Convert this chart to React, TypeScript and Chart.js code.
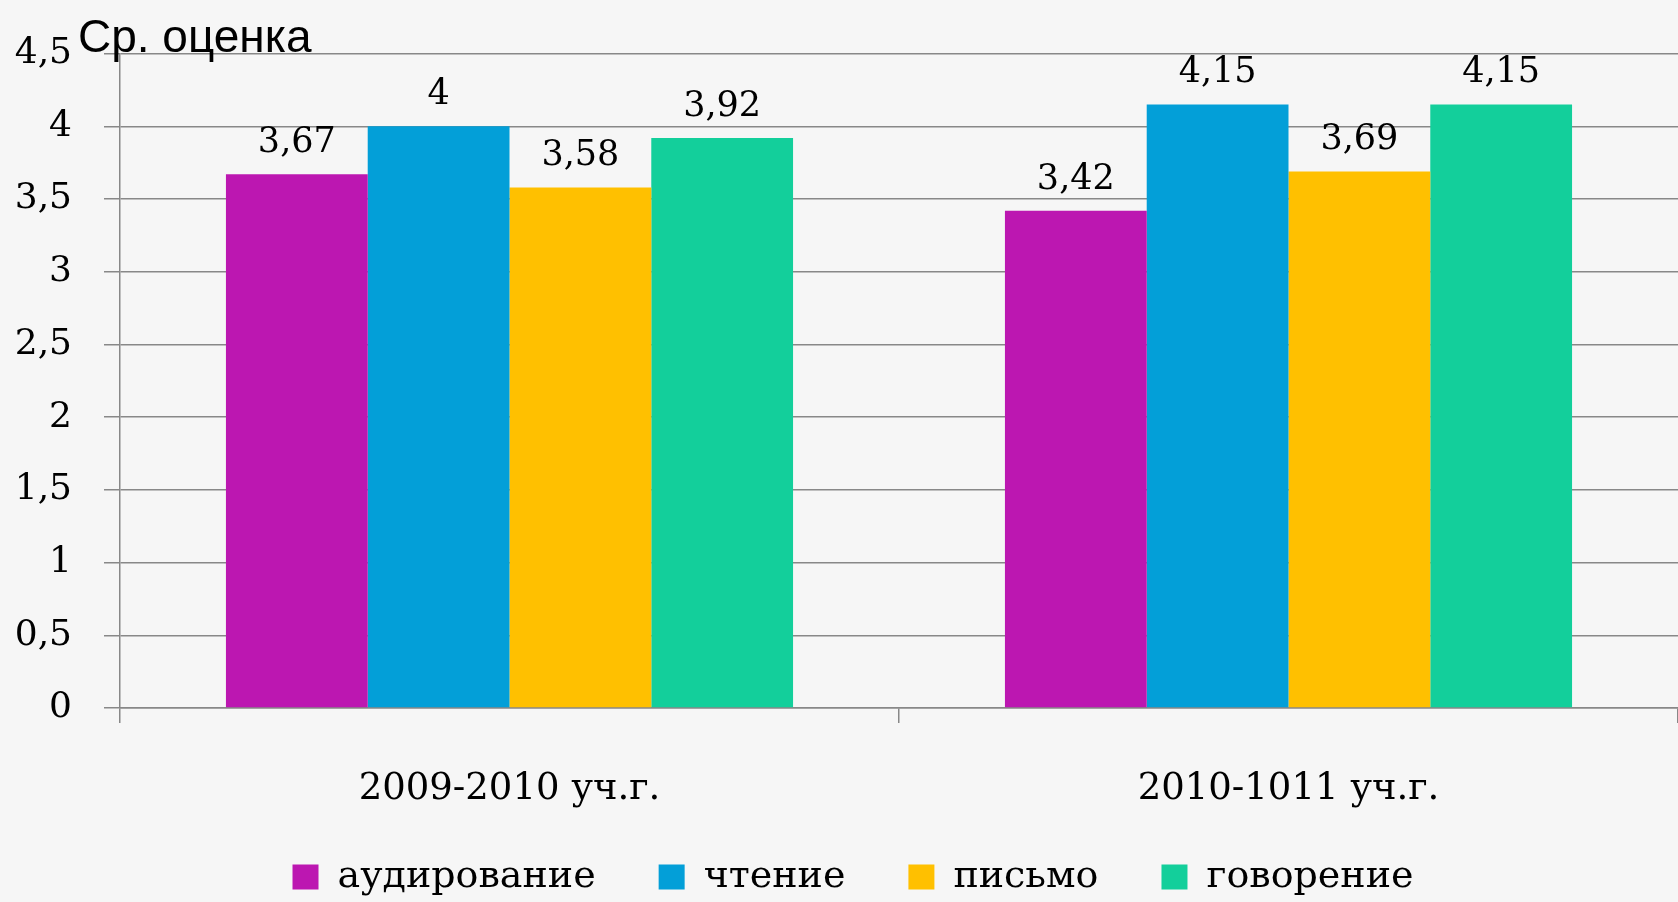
import React, { useEffect, useRef } from "react";
import { Chart, registerables } from "chart.js";

Chart.register(...registerables);

const categories = ["2009-2010 уч.г.", "2010-1011 уч.г."];
const seriesNames = ["аудирование", "чтение", "письмо", "говорение"];
const audirovanie = [3.67, 3.42];
const chtenie = [4, 4.15];
const pismo = [3.58, 3.69];
const govorenie = [3.92, 4.15];
const seriesColors = ["#BC17B1", "#039FD8", "#FFC000", "#13CF9B"];
const yTicks = [0, 0.5, 1, 1.5, 2, 2.5, 3, 3.5, 4, 4.5];
const axisTitle = "Ср. оценка";

const fmt = (v: number) => String(v).replace(".", ",");

const valueLabels = {
  id: "valueLabels",
  afterDatasetsDraw(chart: any) {
    const ctx = chart.ctx;
    ctx.save();
    ctx.font = '35px "DejaVu Serif"';
    ctx.fillStyle = "#000";
    ctx.textAlign = "center";
    ctx.textBaseline = "alphabetic";
    chart.data.datasets.forEach((ds: any, i: number) => {
      const meta = chart.getDatasetMeta(i);
      meta.data.forEach((bar: any, j: number) => {
        ctx.fillText(fmt(ds.data[j]), bar.x, bar.y - 22);
      });
    });
    ctx.restore();
  },
};

const cornerTitle = {
  id: "cornerTitle",
  afterDraw(chart: any) {
    const ctx = chart.ctx;
    const area = chart.chartArea;
    ctx.save();
    ctx.font = '46px "Liberation Sans"';
    ctx.fillStyle = "#000";
    ctx.textAlign = "left";
    ctx.textBaseline = "alphabetic";
    ctx.fillText(axisTitle, area.left - 42, area.top - 2);
    ctx.restore();
  },
};

// shift the legend block slightly right and up after layout
const legendShift = {
  id: "legendShift",
  afterLayout(chart: any) {
    const lg = chart.legend;
    if (!lg) return;
    lg.left = 28;
    lg.top = lg.top - 27;
  },
};

export default function App() {
  const canvasRef = useRef<HTMLCanvasElement | null>(null);

  useEffect(() => {
    document.body.style.margin = "0";
    const canvas = canvasRef.current;
    if (!canvas) return;
    const dataSeries = [audirovanie, chtenie, pismo, govorenie];
    const chart = new Chart(canvas, {
      type: "bar",
      data: {
        labels: categories,
        datasets: seriesNames.map((name, i) => ({
          label: name,
          data: dataSeries[i],
          backgroundColor: seriesColors[i],
          borderWidth: 0,
          categoryPercentage: 0.728,
          barPercentage: 1.0,
        })),
      },
      options: {
        animation: false,
        responsive: true,
        maintainAspectRatio: false,
        layout: { padding: { top: 46, left: 0, right: 0, bottom: 0 } },
        plugins: {
          legend: {
            position: "bottom",
            maxHeight: 80,
            labels: {
              boxWidth: 26,
              boxHeight: 25,
              padding: 63,
              color: "#000",
              font: { family: '"DejaVu Serif"', size: 38 },
            },
          },
          title: { display: false },
          tooltip: { enabled: false },
        },
        scales: {
          x: {
            grid: {
              display: true,
              drawOnChartArea: false,
              drawTicks: true,
              tickLength: 15,
              color: "#888",
              lineWidth: 1.5,
            },
            border: { display: true, color: "#888", width: 1.5 },
            ticks: {
              color: "#000",
              padding: 44,
              font: { family: '"DejaVu Serif"', size: 37 },
            },
            afterFit: (scale: any) => {
              scale.height = 114;
            },
          },
          y: {
            min: 0,
            max: 4.5,
            afterBuildTicks: (scale: any) => {
              scale.ticks = yTicks.map((v) => ({ value: v }));
            },
            grid: {
              color: "#888",
              lineWidth: 1.5,
              tickLength: 16,
            },
            border: { display: true, color: "#888", width: 1.5 },
            ticks: {
              color: "#000",
              padding: 32,
              font: { family: '"DejaVu Serif"', size: 36 },
              callback: (v: any) => fmt(Number(v)),
            },
            afterFit: (scale: any) => {
              scale.width = 120;
            },
          },
        },
      },
      plugins: [valueLabels, cornerTitle, legendShift],
    });
    return () => chart.destroy();
  }, []);

  return (
    <div style={{ width: 1678, height: 902, background: "#f6f6f6", position: "relative" }}>
      <canvas ref={canvasRef} />
    </div>
  );
}
